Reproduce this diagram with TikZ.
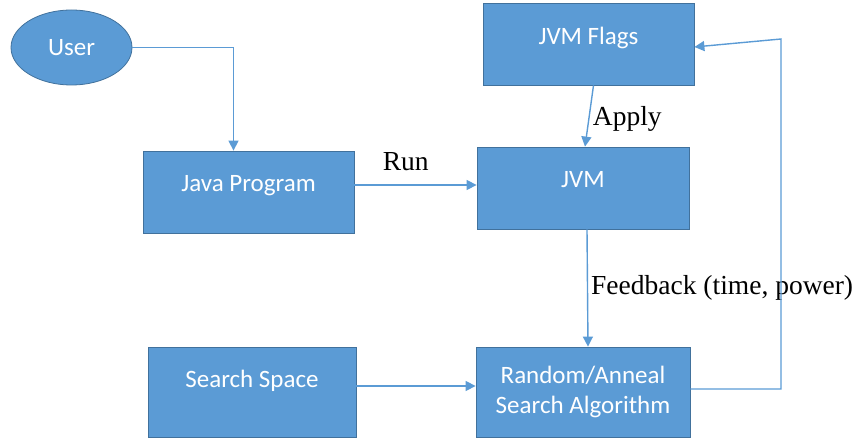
\documentclass[tikz,border=0pt]{standalone}
\usepackage{fontspec}
\setmainfont{Liberation Serif}
\newfontfamily\boxfont{Carlito}
\usepackage{tikz}
\usetikzlibrary{shapes.geometric, arrows.meta, positioning}
\definecolor{boxblue}{RGB}{91, 155, 213}
\definecolor{boxedge}{RGB}{65, 113, 156}

\tikzset{
    boxbase/.style={
        rectangle,
        fill=boxblue,
        draw=boxedge,
        line width=0.8pt,
        text=white,
        align=center,
        inner sep=0pt,
        font=\boxfont\fontsize{25}{30}\selectfont
    },
    block/.style={boxbase, text height=17pt, text depth=18pt},
    link/.style={draw=boxblue, line width=1.4pt, -{Triangle[length=10pt, width=10pt]}},
    lbl/.style={font=\fontsize{27.5}{32}\selectfont, text=black, inner sep=3pt}
}

\begin{document}
\begin{tikzpicture}[x=1pt, y=-1pt]
    \useasboundingbox (0,0) rectangle (857,438);

    % nodes
    \node[boxbase, ellipse, minimum width=121pt, minimum height=75pt] (user) at (71.5,47.5) {User};
    \node[block, minimum width=211pt, minimum height=82pt, text depth=16pt] (flags) at (588.5,44) {JVM Flags};
    \node[block, minimum width=211pt, minimum height=82pt] (java) at (248.5,192) {Java Program};
    \node[block, minimum width=212pt, minimum height=82pt] (jvm) at (583,188) {JVM};
    \node[block, minimum width=208pt, minimum height=90pt, text depth=25pt] (space) at (252,392) {Search Space};
    \node[boxbase, minimum width=214pt, minimum height=90pt] (random) at (583,392) {Random/Anneal\\Search Algorithm};
    \coordinate (fbtop) at (781,39);

    % connectors
    \draw[link] (user.east) -| ([xshift=-15pt]java.north);
    \draw[link] ([yshift=7pt]java.east) -- ([yshift=7pt]java.east -| jvm.west)
        node[lbl, pos=0.42, above=11pt] (run) {Run};
    \draw[link] ([xshift=5pt]flags.south) -- ([xshift=2pt]jvm.north)
        node[lbl, pos=0.5, right=0pt, yshift=-3pt] (apply) {Apply};
    \draw[link] ([xshift=4pt]jvm.south) -- ([xshift=5pt]random.north)
        node[lbl, pos=0.5, right=0pt] (feedback) {Feedback (time, power)};
    \draw[link] ([yshift=6pt]space.east) -- ([yshift=6pt]space.east -| random.west);
    \draw[link] ([yshift=3pt]random.east) -| (fbtop) -- ([yshift=-3pt]flags.east);
\end{tikzpicture}
\end{document}
